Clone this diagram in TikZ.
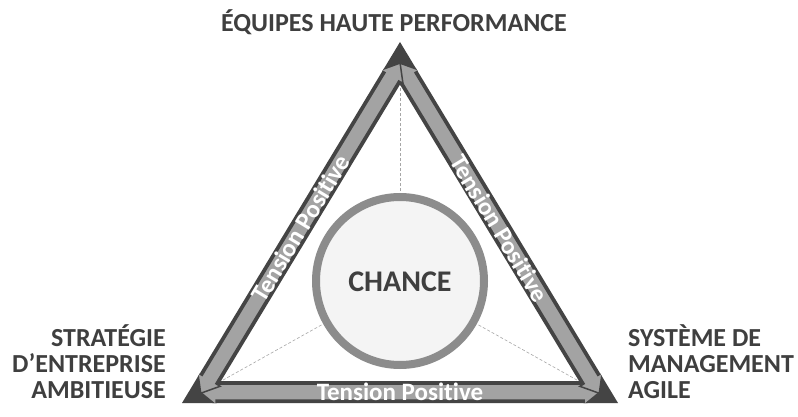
\documentclass[tikz,border=0pt]{standalone}
\usepackage{fontspec}
\setmainfont{Carlito}[RawFeature={-liga;-dlig}]
\usetikzlibrary{calc}
\definecolor{dk}{HTML}{444444}
\definecolor{lt}{HTML}{A3A3A3}
\definecolor{txt}{HTML}{3F3F3F}
\definecolor{ring}{HTML}{8C8C8C}
\definecolor{inner}{HTML}{F4F4F4}
\begin{document}
\begin{tikzpicture}[x=1pt,y=1pt,
  arrowbody/.style={fill=lt, draw=dk, line width=1.5pt, line join=miter},
  tlabel/.style={text=white, font=\bfseries\fontsize{25}{25}\selectfont, inner sep=0pt},
  corner/.style={text=txt, font=\bfseries\fontsize{26}{26}\selectfont, inner sep=0pt},
  guide/.style={draw=gray!70, densely dashed, line width=0.6pt}]
\useasboundingbox[fill=white] (0,0) rectangle (798,416);
\coordinate (T) at (400,374);
\coordinate (L) at (182,13);
\coordinate (R) at (618,13);
\coordinate (O) at (400,135);
% guides
\draw[guide] (O) -- (T);
\draw[guide] (O) -- (L);
\draw[guide] (O) -- (R);
% band and arrows
\begin{scope}
  \clip (T) -- (L) -- (R) -- cycle;
  \draw[dk, line width=44pt] (T) -- (L) -- (R) -- cycle;
  \begin{scope}[shift={(L)}, rotate=0]
    \draw[arrowbody] (18,11) -- (34,24) -- (34,19) -- (402,19) -- (402,24) -- (418,11) -- (402,-2) -- (402,3) -- (34,3) -- (34,-2) -- cycle;
    \coordinate (mb) at (218,11);
  \end{scope}
  \begin{scope}[shift={(R)}, rotate=121.13]
    \draw[arrowbody] (18,11) -- (34,24) -- (34,19) -- (387.7,19) -- (387.7,24) -- (403.7,11) -- (387.7,-2) -- (387.7,3) -- (34,3) -- (34,-2) -- cycle;
    \coordinate (mr) at (210.85,11);
  \end{scope}
  \begin{scope}[shift={(T)}, rotate=238.87]
    \draw[arrowbody] (18,11) -- (34,24) -- (34,19) -- (387.7,19) -- (387.7,24) -- (403.7,11) -- (387.7,-2) -- (387.7,3) -- (34,3) -- (34,-2) -- cycle;
    \coordinate (ml) at (210.85,11);
  \end{scope}
\end{scope}
\node[tlabel] (tb) at (mb) {Tension Positive};
\node[tlabel, rotate=-58.87] (tr) at (mr) {Tension Positive};
\node[tlabel, rotate=58.87] (tl) at (ml) {Tension Positive};
% circle
\draw[ring, line width=8pt, fill=inner] (O) circle[radius=84];
\node[text=txt, font=\bfseries\fontsize{30}{30}\selectfont, inner sep=0pt] (C) at ($(O)+(0,-1)$) {CHANCE};
% labels
\node[corner] (top) at (394,394) {ÉQUIPES HAUTE PERFORMANCE};
\node[corner, align=right, anchor=east] (lft) at (166,54) {STRATÉGIE\\D’ENTREPRISE\\AMBITIEUSE};
\node[corner, align=left, anchor=west] (rgt) at (628,54) {SYSTÈME DE\\MANAGEMENT\\AGILE};
\end{tikzpicture}
\end{document}
